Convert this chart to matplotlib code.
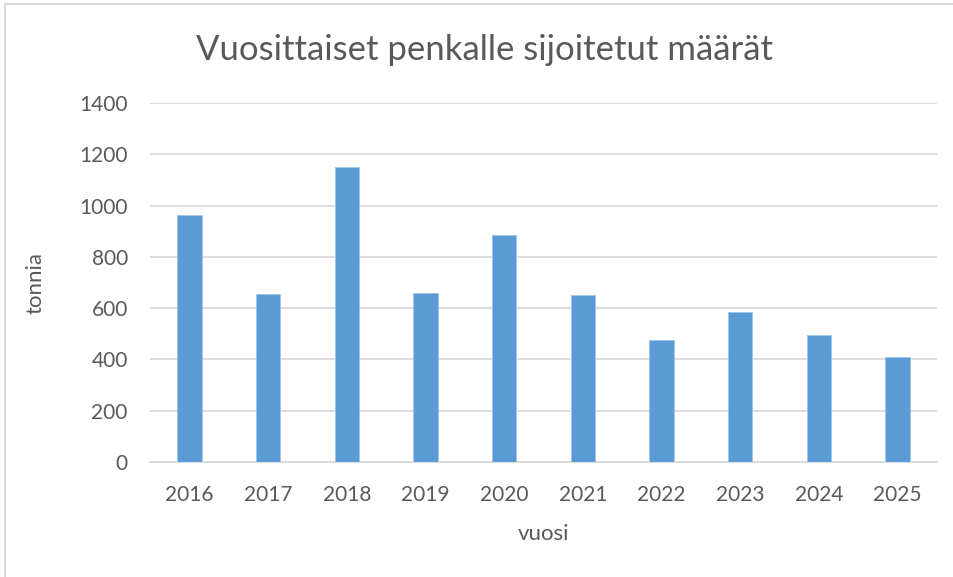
import matplotlib
matplotlib.use('Agg')
import matplotlib.pyplot as plt
from matplotlib.lines import Line2D

# Tiedot kuvasta
vuodet = ['2016', '2017', '2018', '2019', '2020', '2021', '2022', '2023', '2024', '2025']
tonnia = [965, 655, 1150, 660, 885, 650, 475, 585, 495, 410]
y_ticks = [0, 200, 400, 600, 800, 1000, 1200, 1400]

plt.rcParams['font.family'] = ['Lato', 'DejaVu Sans']
harmaa = '#595959'

fig = plt.figure(figsize=(9.54, 5.77), dpi=100)
ax = fig.add_axes([150 / 954, 1 - 462 / 577, 787 / 954, 359 / 577])

x = range(len(vuodet))
ax.bar(x, tonnia, width=0.31, color='#5B9BD5', edgecolor='#9DC3E6', linewidth=0.6, zorder=3)

ax.set_xlim(-0.5, len(vuodet) - 0.5)
ax.set_ylim(0, 1400)
ax.set_yticks(y_ticks)
ax.set_xticks(list(x))
ax.set_xticklabels(vuodet)
ax.grid(axis='y', color='#D9D9D9', linewidth=1.3, zorder=0)
ax.tick_params(axis='both', length=0, labelsize=15, labelcolor=harmaa)
ax.tick_params(axis='x', pad=16.5)
ax.tick_params(axis='y', pad=16)
for s in ['top', 'right', 'left']:
    ax.spines[s].set_visible(False)
ax.spines['bottom'].set_color('#D9D9D9')
ax.spines['bottom'].set_linewidth(1.3)

ax.set_xlabel('vuosi', fontsize=16, color=harmaa, labelpad=14)
ax.set_ylabel('tonnia', fontsize=16, color=harmaa, labelpad=24)
fig.text(485 / 954, 1 - 50 / 577, 'Vuosittaiset penkalle sijoitetut määrät',
         fontsize=25, color=harmaa, ha='center', va='center')

# kaavion reunaviivat (ylä ja vasen)
fig.add_artist(Line2D([5 / 954, 5 / 954], [0, 1 - 4 / 577], color='#D9D9D9', linewidth=1.5))
fig.add_artist(Line2D([5 / 954, 1], [1 - 4 / 577, 1 - 4 / 577], color='#D9D9D9', linewidth=1.5))

fig.savefig('out.png', dpi=100)
